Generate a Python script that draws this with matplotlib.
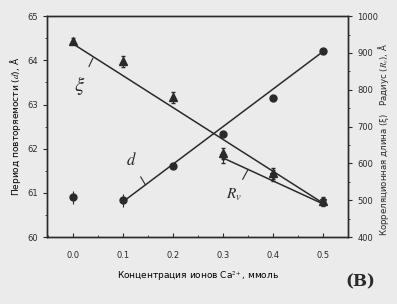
import numpy as np
import matplotlib.pyplot as plt
from matplotlib.ticker import MultipleLocator

# concentration of Ca2+ ions, mmol
conc = [0.0, 0.1, 0.2, 0.3, 0.4, 0.5]
# period d, A (left axis)
d_val = [60.9, 60.83, 61.6, 62.33, 63.15, 64.2]
d_err = [0.15, 0.15, 0.05, 0.05, 0.05, 0.05]
# correlation length xi, A (right axis)
xi_val = [932, 878, 780, 628, 574, 498]
xi_err = [8, 15, 15, 15, 15, 10]
# radius Rv, A (right axis)
rv_conc = [0.3, 0.4, 0.5]
rv_val = [617, 566, 495]
rv_err = [15, 15, 10]
# fitted lines
d_fit_x = [0.1, 0.5]
d_fit_y = [60.8, 64.2]
xi_fit_x = [0.0, 0.5]
xi_fit_y = [925, 492]
rv_fit_x = [0.3, 0.5]
rv_fit_y = [615, 490]

BG = "#ebebeb"
INK = "#2a2a2a"
plt.rcParams["font.family"] = ["DejaVu Sans"]
plt.rcParams["mathtext.fontset"] = "stix"
plt.rcParams["text.color"] = INK
plt.rcParams["axes.edgecolor"] = INK
plt.rcParams["xtick.color"] = INK
plt.rcParams["ytick.color"] = INK

fig = plt.figure(figsize=(3.97, 3.04), dpi=100, facecolor=BG)
ax1 = fig.add_axes([0.118, 0.22, 0.759, 0.727], facecolor=BG)
ax2 = ax1.twinx()

ax1.errorbar(conc, d_val, yerr=d_err, fmt="o", ms=5, color=INK, ecolor=INK,
             elinewidth=0.8, capsize=0)
ax1.plot(d_fit_x, d_fit_y, color=INK, lw=1.1)

ax2.errorbar(conc, xi_val, yerr=xi_err, fmt="^", ms=5.5, color=INK, ecolor=INK,
             elinewidth=0.8, capsize=1.5)
ax2.plot(xi_fit_x, xi_fit_y, color=INK, lw=1.1)
ax2.errorbar(rv_conc, rv_val, yerr=rv_err, fmt="v", ms=5, mfc="none", mec=INK,
             color=INK, ecolor=INK, elinewidth=0.8, capsize=1.5)
ax2.plot(rv_fit_x, rv_fit_y, color=INK, lw=1.1)

ax1.set_xlim(-0.052, 0.55)
ax1.set_ylim(60, 65)
ax2.set_ylim(400, 1000)
ax1.xaxis.set_major_locator(MultipleLocator(0.1))
ax1.xaxis.set_minor_locator(MultipleLocator(0.05))
ax1.yaxis.set_major_locator(MultipleLocator(1))
ax1.yaxis.set_minor_locator(MultipleLocator(0.5))
ax2.yaxis.set_major_locator(MultipleLocator(100))
ax2.yaxis.set_minor_locator(MultipleLocator(50))
ax1.xaxis.set_major_formatter(plt.FormatStrFormatter("%.1f"))

for ax in (ax1, ax2):
    ax.tick_params(which="major", direction="out", length=3, width=0.8, labelsize=6)
    ax.tick_params(which="minor", direction="out", length=1.5, width=0.6)
    for s in ax.spines.values():
        s.set_linewidth(1.0)
ax1.tick_params(axis="x", which="both", direction="in", top=False, pad=10)

ax1.set_xlabel("Концентрация ионов Ca$^{2+}$, ммоль", fontsize=6.5, labelpad=7)
ax1.set_ylabel("Период повторяемости ($d$), Å", fontsize=6.5, labelpad=3)
fig.text(0.965, 0.54, "Корреляционная длина (ξ)   Радиус ($R_v$), Å", fontsize=6.2,
         rotation=90, ha="center", va="center")

# curve labels
arrow = dict(arrowstyle="-", color=INK, lw=0.8, shrinkA=4, shrinkB=0)
ax1.annotate("$\\xi$", xy=(0.04, 64.05), xytext=(0.014, 63.42), fontsize=15,
             ha="center", va="center", arrowprops=arrow)
ax1.annotate("$d$", xy=(0.145, 61.18), xytext=(0.116, 61.74), fontsize=12,
             ha="center", va="center", arrowprops=arrow)
ax1.annotate("$R_v$", xy=(0.35, 61.53), xytext=(0.322, 60.95), fontsize=11,
             ha="center", va="center", arrowprops=arrow)

fig.text(0.945, 0.045, "(B)", fontsize=12, family="DejaVu Serif", ha="right",
         va="bottom", fontweight="bold")

plt.savefig("out.png", dpi=100, facecolor=BG)
